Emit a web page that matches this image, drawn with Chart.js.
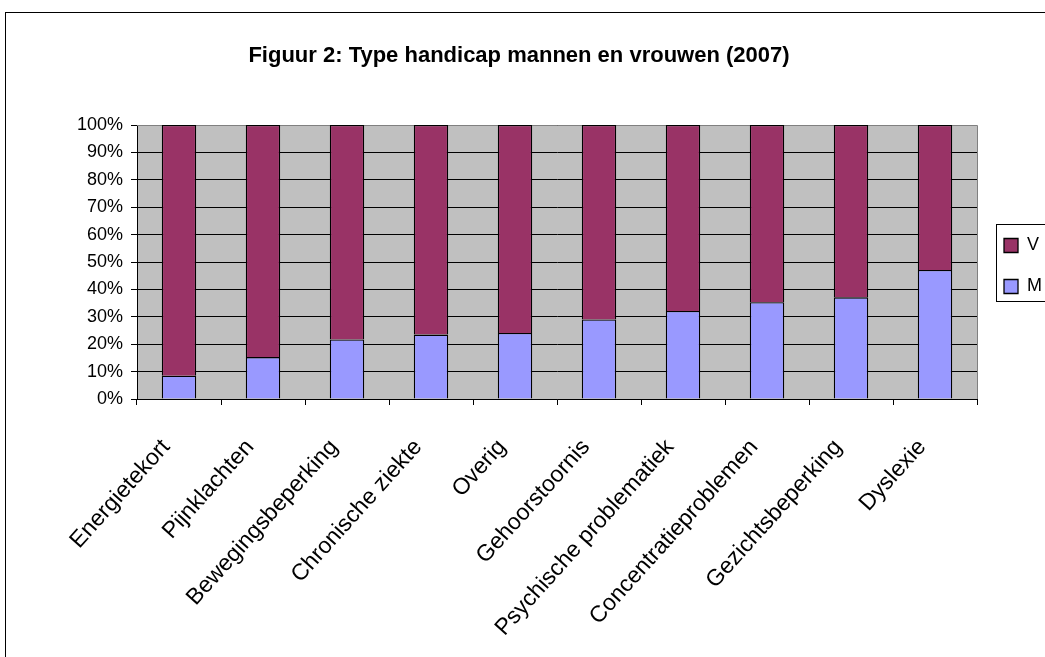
<!DOCTYPE html>
<html>
<head>
<meta charset="utf-8">
<script src="https://cdn.jsdelivr.net/npm/chart.js@4/dist/chart.umd.min.js"></script>
<style>
  body { margin: 0; background: #fff; overflow: hidden; font-family: Arial, "Liberation Sans", sans-serif; }
  .frame {
    position: absolute; left: 5px; top: 12px;
    width: 1100px; height: 700px;
    border: 1px solid #000; background: #fff;
  }
  .titel {
    position: absolute; left: 19px; width: 1000px; top: 42px;
    text-align: center; font-weight: bold; font-size: 22px; line-height: 26px; color: #000;
  }
</style>
</head>
<body>
<div class="frame"><canvas id="graphic"></canvas></div>
<div class="titel">Figuur 2: Type handicap mannen en vrouwen (2007)</div>
<script>
const categorieen = ["Energietekort", "Pijnklachten", "Bewegingsbeperking", "Chronische ziekte", "Overig",
  "Gehoorstoornis", "Psychische problematiek", "Concentratieproblemen", "Gezichtsbeperking", "Dyslexie"];
const mannen = [8.5, 15.3, 21.7, 23.5, 24.1, 29.0, 32.1, 35.3, 37.1, 47.1];
const vrouwen = mannen.map((m) => 100 - m);
const procentTicks = [0, 10, 20, 30, 40, 50, 60, 70, 80, 90, 100];

const font = "Arial, 'Liberation Sans', sans-serif";
const legendaPadding = 23;

// grijze plotachtergrond, grijze rand boven/rechts en een kader om de legenda
const achtergrond = {
  id: "achtergrond",
  afterLayout(chart) {
    chart.legend.left += 4;
    chart.legend.right += 4;
    chart.legend.top += 4;
    chart.legend.bottom += 4;
  },
  beforeDraw(chart) {
    const { ctx, chartArea: a } = chart;
    ctx.save();
    ctx.fillStyle = "#c0c0c0";
    ctx.fillRect(a.left, a.top, a.right - a.left, a.bottom - a.top);
    ctx.restore();
  },
  beforeDatasetsDraw(chart) {
    const { ctx, chartArea: a } = chart;
    ctx.save();
    ctx.strokeStyle = "#808080";
    ctx.lineWidth = 1;
    ctx.beginPath();
    ctx.moveTo(a.left, a.top + 0.5);
    ctx.lineTo(a.right + 0.5, a.top + 0.5);
    ctx.lineTo(a.right + 0.5, a.bottom);
    ctx.stroke();
    ctx.restore();
  },
  afterDraw(chart) {
    const { ctx, legend } = chart;
    const kolomHoogte = legend.columnSizes[0].height;
    const itemsTop = (legend.top + legendaPadding + legend.bottom - kolomHoogte) / 2;
    ctx.save();
    ctx.strokeStyle = "#000";
    ctx.lineWidth = 1;
    ctx.strokeRect(Math.round(legend.left + legendaPadding - 8) + 0.5, Math.round(itemsTop - 13) + 0.5, 200, 77);
    ctx.restore();
  },
};

const ctx = document.getElementById("graphic").getContext("2d");
new Chart(ctx, {
  type: "bar",
  data: {
    labels: categorieen,
    datasets: [
      { label: "M", data: mannen, backgroundColor: "#9999ff", borderColor: "#000", borderWidth: 1.3,
        barPercentage: 0.41, categoryPercentage: 1 },
      { label: "V", data: vrouwen, backgroundColor: "#993366", borderColor: "#000", borderWidth: 1.3,
        barPercentage: 0.41, categoryPercentage: 1 },
    ],
  },
  options: {
    responsive: true,
    maintainAspectRatio: false,
    animation: false,
    layout: { padding: { top: 112, left: 0, right: 58, bottom: 0 } },
    plugins: {
      title: { display: false },
      legend: {
        position: "right",
        fullSize: false,
        reverse: true,
        labels: {
          color: "#000",
          font: { family: font, size: 18 },
          boxWidth: 14, boxHeight: 14,
          padding: legendaPadding,
        },
      },
      tooltip: { enabled: false },
    },
    scales: {
      x: {
        stacked: true,
        grid: { display: true, drawOnChartArea: false, drawTicks: true, tickLength: 6, color: "#000", offset: true },
        border: { color: "#000", width: 1 },
        ticks: {
          color: "#000", font: { family: font, size: 23 },
          maxRotation: 48, minRotation: 48, autoSkip: false, padding: 29, labelOffset: -13,
        },
        afterFit: (scale) => { scale.height = 700 - 386; },
      },
      y: {
        stacked: true,
        min: 0, max: 100,
        afterBuildTicks: (scale) => { scale.ticks = procentTicks.map((v) => ({ value: v })); },
        grid: { color: "#000", tickLength: 6 },
        border: { color: "#000", width: 1 },
        ticks: {
          color: "#000", font: { family: font, size: 18 }, padding: 8,
          callback: (v) => v + "%",
        },
        afterFit: (scale) => { scale.width = 131; },
      },
    },
  },
  plugins: [achtergrond],
});
</script>
</body>
</html>
